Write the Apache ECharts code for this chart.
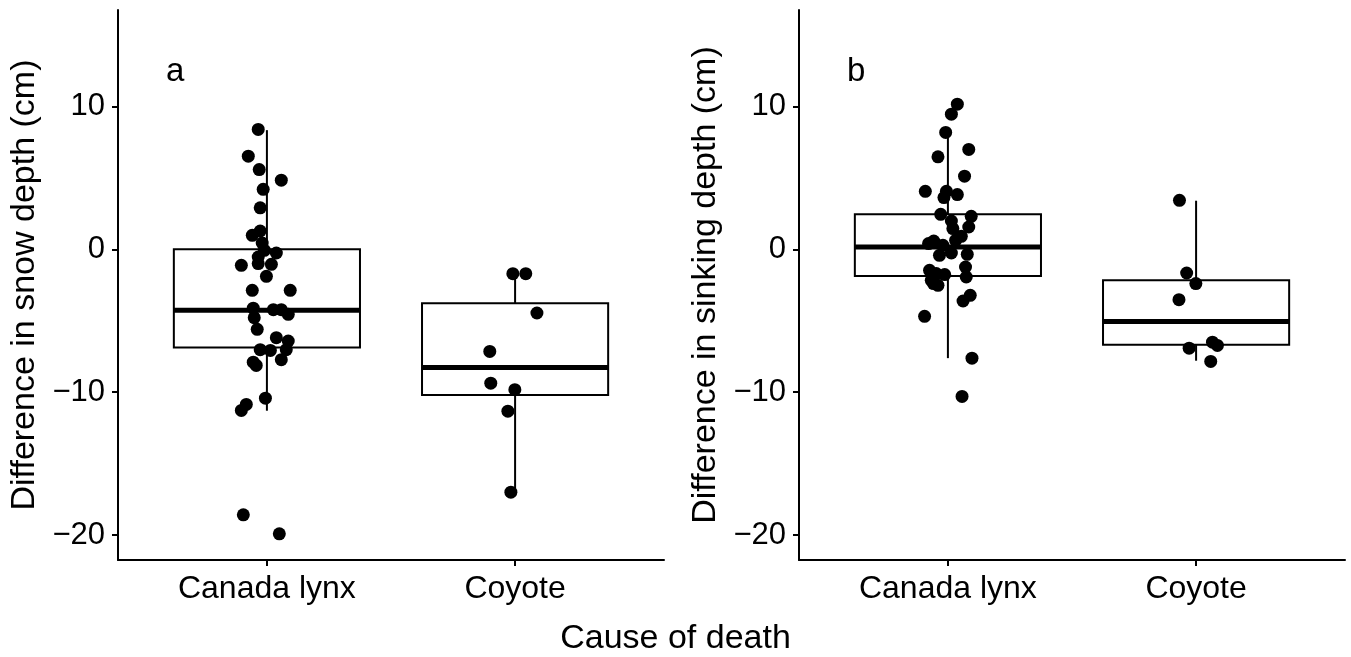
<!DOCTYPE html>
<html>
<head>
<meta charset="utf-8">
<script src="https://cdn.jsdelivr.net/npm/echarts@6/dist/echarts.min.js"></script>
<style>
  html, body { margin: 0; padding: 0; background: #ffffff; }
  #chart { width: 1351px; height: 657px; }
</style>
</head>
<body>
<div id="chart"></div>
<script>
// Categories and tick labels
const categories = ['Canada lynx', 'Coyote'];
const yTicks = [-20, -10, 0, 10];
const panelLetters = ['a', 'b'];
const letterPos = [0.63, 12.4];

// Box summaries: [category position, lower whisker, Q1, median, Q3, upper whisker]
const snowBoxes = [
  [1, -11.3, -6.87, -4.27, 0.0, 8.34],
  [2, -17.0, -10.2, -8.27, -3.78, -1.7]
];
const sinkBoxes = [
  [1, -7.62, -1.87, 0.16, 2.45, 8.18],
  [2, -7.8, -6.68, -5.05, -2.17, 3.4]
];

// Individual kill sites (jittered category position, difference in cm)
const snowLynx = [
  [0.965, 8.39], [0.925, 6.52], [0.969, 5.58], [1.058, 4.84], [0.985, 4.20],
  [0.973, 2.90], [0.973, 1.28], [0.941, 0.98], [0.981, 0.44], [0.990, -0.07],
  [1.038, -0.26], [0.965, -0.54], [0.965, -1.00], [1.018, -1.05], [0.897, -1.12],
  [0.998, -1.89], [0.941, -2.87], [1.094, -2.87], [0.945, -4.12], [1.026, -4.23],
  [1.058, -4.23], [1.086, -4.55], [0.949, -4.79], [0.961, -5.60], [1.038, -6.19],
  [1.086, -6.42], [0.973, -7.03], [1.014, -7.08], [1.078, -7.03], [1.058, -7.73],
  [0.945, -7.90], [0.957, -8.13], [0.994, -10.42], [0.917, -10.86], [0.897, -11.28],
  [0.905, -18.59], [1.050, -19.92]
];
const snowCoyote = [
  [1.991, -1.71], [2.043, -1.71], [2.088, -4.46], [1.898, -7.15],
  [1.902, -9.37], [1.999, -9.83], [1.971, -11.33], [1.983, -17.0]
];
const sinkLynx = [
  [1.038, 10.16], [1.014, 9.46], [0.991, 8.18], [0.960, 6.47], [1.084, 6.99],
  [1.067, 5.12], [0.909, 4.06], [0.994, 4.06], [0.984, 3.62], [1.038, 3.83],
  [0.971, 2.45], [1.094, 2.31], [1.014, 1.98], [1.084, 1.56], [1.020, 1.45],
  [1.054, 0.91], [1.031, 0.63], [0.943, 0.58], [0.922, 0.40], [0.980, 0.28],
  [0.966, -0.42], [1.014, -0.26], [1.078, -0.35], [1.071, -1.24], [0.926, -1.47],
  [0.953, -1.70], [0.987, -1.77], [1.074, -1.94], [0.933, -2.17], [0.960, -2.52],
  [0.942, -2.40], [1.090, -3.22], [1.061, -3.62], [0.906, -4.69], [1.097, -7.62],
  [1.057, -10.30]
];
const sinkCoyote = [
  [1.933, 3.43], [1.962, -1.66], [1.999, -2.40], [1.931, -3.53],
  [2.066, -6.50], [2.086, -6.73], [1.972, -6.92], [2.059, -7.85]
];

const FONT = '"Liberation Sans", Arial, Helvetica, sans-serif';
const BOX_WIDTH = 0.75;

function boxRenderer(params, api) {
  const x = api.value(0);
  const lo = api.value(1), q1 = api.value(2), med = api.value(3), q3 = api.value(4), hi = api.value(5);
  const h = BOX_WIDTH / 2;
  const tl = api.coord([x - h, q3]);
  const br = api.coord([x + h, q1]);
  const mL = api.coord([x - h, med]);
  const mR = api.coord([x + h, med]);
  const pHi = api.coord([x, hi]);
  const pQ3 = api.coord([x, q3]);
  const pQ1 = api.coord([x, q1]);
  const pLo = api.coord([x, lo]);
  const stroke = { stroke: '#000', lineWidth: 2 };
  return {
    type: 'group',
    children: [
      { type: 'line', shape: { x1: pQ3[0], y1: pQ3[1], x2: pHi[0], y2: pHi[1] }, style: stroke },
      { type: 'line', shape: { x1: pQ1[0], y1: pQ1[1], x2: pLo[0], y2: pLo[1] }, style: stroke },
      { type: 'rect', shape: { x: tl[0], y: tl[1], width: br[0] - tl[0], height: br[1] - tl[1] },
        style: { fill: '#fff', stroke: '#000', lineWidth: 2 } },
      { type: 'line', shape: { x1: mL[0], y1: mL[1], x2: mR[0], y2: mR[1] },
        style: { stroke: '#000', lineWidth: 5 } }
    ]
  };
}

const fmtY = v => (v < 0 ? '\u2212' + Math.abs(v) : String(v));

function makeXAxis(gridIndex) {
  return {
    type: 'value', gridIndex, min: 0.4, max: 2.6,
    axisLine: { onZero: false, lineStyle: { color: '#000', width: 2 } },
    axisTick: { customValues: [1, 2], length: 6, lineStyle: { color: '#000', width: 2 } },
    axisLabel: {
      customValues: [1, 2], margin: 13, color: '#000', fontSize: 32, fontFamily: FONT,
      formatter: v => categories[Math.round(v) - 1]
    },
    splitLine: { show: false }
  };
}

function makeYAxis(gridIndex, name) {
  return {
    type: 'value', gridIndex, min: -21.75, max: 16.75,
    name, nameLocation: 'middle', nameGap: 76,
    nameTextStyle: { color: '#000', fontSize: 34, fontFamily: FONT },
    axisLine: { show: true, onZero: false, lineStyle: { color: '#000', width: 2 } },
    axisTick: { show: true, customValues: yTicks, length: 6, lineStyle: { color: '#000', width: 2 } },
    axisLabel: { customValues: yTicks, margin: 13, color: '#000', fontSize: 31, fontFamily: FONT, formatter: fmtY },
    splitLine: { show: false }
  };
}

function boxSeries(idx, boxes) {
  return {
    type: 'custom', xAxisIndex: idx, yAxisIndex: idx,
    renderItem: boxRenderer, data: boxes,
    encode: { x: 0, y: [1, 2, 3, 4, 5] }, z: 1, silent: true
  };
}

function pointSeries(idx, pts) {
  return {
    type: 'scatter', xAxisIndex: idx, yAxisIndex: idx, data: pts,
    symbolSize: 13, itemStyle: { color: '#000', opacity: 1 }, z: 3, silent: true
  };
}

function letterSeries(idx) {
  return {
    type: 'scatter', xAxisIndex: idx, yAxisIndex: idx,
    data: [letterPos], symbolSize: 1, silent: true,
    itemStyle: { color: 'rgba(0,0,0,0)' },
    label: {
      show: true, position: 'inside', formatter: panelLetters[idx],
      color: '#000', opacity: 1, textBorderWidth: 0, fontSize: 33, fontFamily: FONT
    }
  };
}

const chart = echarts.init(document.getElementById('chart'), null, { renderer: 'canvas' });
chart.setOption({
  animation: false,
  backgroundColor: '#ffffff',
  grid: [
    { left: 118, top: 10, width: 546, height: 550 },
    { left: 799, top: 10, width: 546, height: 550 }
  ],
  xAxis: [makeXAxis(0), makeXAxis(1)],
  yAxis: [
    makeYAxis(0, 'Difference in snow depth (cm)'),
    makeYAxis(1, 'Difference in sinking depth (cm)')
  ],
  graphic: [{
    type: 'text', left: 'center', top: 622,
    style: { text: 'Cause of death', fill: '#000', fontSize: 34, fontFamily: FONT },
    x: 4
  }],
  series: [
    boxSeries(0, snowBoxes),
    boxSeries(1, sinkBoxes),
    pointSeries(0, snowLynx),
    pointSeries(0, snowCoyote),
    pointSeries(1, sinkLynx),
    pointSeries(1, sinkCoyote),
    letterSeries(0),
    letterSeries(1)
  ]
});
</script>
</body>
</html>
